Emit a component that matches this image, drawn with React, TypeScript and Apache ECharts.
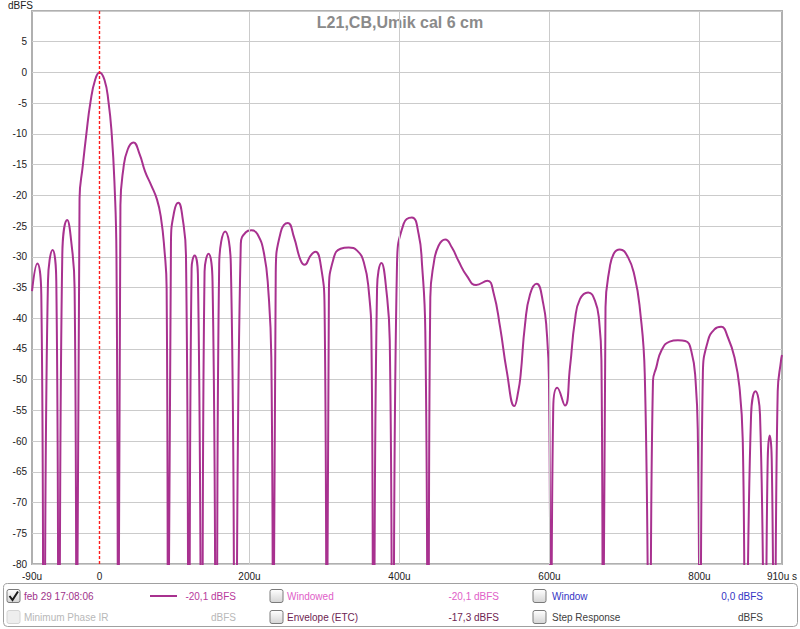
import React, { useEffect, useRef } from 'react';
import * as echarts from 'echarts';

const timeUs = [
  -90, -82.9, -77.6, -74.0, -68.7, -62.5, -57.6, -54.1, -49.6, -43.0, -37.7, -33.2, -30.2,
  -26.6, -22.2, -17.7, -12.0, -5.8, 0, 6.6, 12.0, 16.4, 19.9, 22.6, 25.2,
  27.9, 31.9, 37.7, 45.2, 53.2, 60.7, 68.7, 76.7, 82.0, 86.4, 89.5, 91.7,
  95.3, 99.7, 105.1, 110.8, 115.3, 119.2,
  122.8, 126.8, 131.2, 136.3,
  140.1, 145.4, 150.7, 155.6,
  159.6, 167.6, 175.1, 181.1,
  188.4, 195.1, 202.6, 210.5, 219.4, 225.1, 229.1, 231.8,
  235.0, 241.6, 251.3, 259.3, 268.2, 273.5, 281.5, 288.1, 294.8, 300.1, 303.2,
  305.9, 312.5, 321.4, 332.4, 343.5, 352.4, 359.0, 362.6, 365.4,
  370.1, 375.9, 382.6, 387.0, 391.0,
  396.7, 405.6, 416.6, 425.5, 430.0, 434.4, 438.1,
  441.1, 445.5, 452.1, 461.0, 469.9, 478.7, 489.8, 502.2, 517.3, 525.3, 534.2, 543.0, 553.2,
  558.5, 561.6, 567.4, 574.1, 582.9, 591.8, 596.2, 599.3, 601.9,
  605.0, 610.4, 620.6, 627.3, 633.9, 640.6, 651.6, 660.5, 666.2, 669.3, 671.5,
  674.7, 680.4, 686.2, 693.7, 704.8, 713.7, 720.3, 727.0, 733.3,
  738.0, 742.4, 749.1, 760.2, 771.3, 781.0, 789.0, 794.8, 797.9, 800.7,
  804.5, 811.2, 820.1, 828.9, 837.8, 846.7, 853.3, 857.7, 861.7,
  868.8, 874.6, 880.7, 887.2,
  891.0, 893.6, 896.3, 899.8,
  904.3, 908.7, 910,
];

const levelDb = [
  -35.6, -31.1, -36.2, -100, -34.0, -28.9, -34.0, -100, -29.7, -24.0, -27.5, -35.1, -100,
  -20.5, -15.1, -10.2, -4.8, -1.2, 0, -1.2, -4.8, -10.2, -17.8, -29.7, -100,
  -21.6, -15.6, -12.5, -11.4, -13.2, -16.1, -18.3, -20.7, -23.7, -28.6, -35.1, -100,
  -27.5, -22.6, -21.2, -23.7, -29.7, -100,
  -31.9, -29.8, -32.9, -100,
  -32.4, -29.5, -34.0, -100,
  -31.2, -25.9, -31.2, -100,
  -27.9, -26.0, -25.7, -26.3, -29.5, -35.5, -46.4, -100,
  -32.6, -26.0, -24.5, -26.8, -30.6, -31.3, -29.8, -29.2, -31.2, -38.3, -100,
  -35.5, -30.1, -28.7, -28.5, -29.0, -30.9, -35.5, -43.6, -100,
  -35.1, -31.0, -35.6, -43.6, -100,
  -31.1, -24.6, -23.6, -26.3, -31.2, -42.0, -100,
  -36.6, -31.2, -28.2, -27.2, -28.5, -30.7, -33.1, -34.6, -33.9, -35.8, -41.5, -48.6, -54.3,
  -51.8, -49.1, -41.0, -36.1, -34.4, -37.7, -42.0, -50.2, -100,
  -54.6, -51.3, -54.2, -48.0, -40.4, -36.9, -35.8, -37.1, -40.4, -47.5, -100,
  -38.2, -31.7, -29.4, -28.8, -30.1, -33.3, -38.2, -49.0, -100,
  -50.2, -48.0, -45.3, -43.8, -43.6, -43.7, -45.3, -50.2, -60.0, -100,
  -49.0, -43.7, -41.8, -41.4, -43.1, -46.4, -51.2, -59.9, -100,
  -55.7, -51.9, -55.7, -100,
  -62.9, -59.1, -62.9, -100,
  -51.9, -46.9, -46.0,
];

const xTickValues = [-90, 0, 200, 400, 600, 800, 910];
const xGridValues = [200, 400, 600, 800];
const markerTime = 0;
const yMin = -80;
const yMax = 10;
const chartTitle = 'L21,CB,Umik cal 6 cm';

const FONT = '"Liberation Sans", Arial, sans-serif';

function checkbox(x: number, y: number, enabled: boolean, checked: boolean): any[] {
  const els: any[] = [
    {
      type: 'rect',
      shape: { x, y, width: 13, height: 13, r: 2 },
      style: {
        fill: enabled
          ? new echarts.graphic.LinearGradient(0, 0, 0, 1, [
              { offset: 0, color: '#ffffff' },
              { offset: 1, color: '#d4d4d4' },
            ])
          : '#eeeeee',
        stroke: enabled ? '#7a7a7a' : '#d4d4d4',
        lineWidth: 1,
      },
    },
  ];
  if (checked) {
    els.push({
      type: 'polyline',
      shape: { points: [[x + 2.5, y + 6.5], [x + 5.5, y + 10.5], [x + 11, y + 2]] },
      style: { stroke: '#1a1a1a', lineWidth: 2, fill: 'none' },
    });
  }
  return els;
}

function txt(text: string, x: number, y: number, fill: string, align: string = 'left', font: string = `10px ${FONT}`): any {
  return {
    type: 'text',
    style: { text, x, y, fill, font, textAlign: align, textVerticalAlign: 'middle' },
  };
}

export default function App() {
  const ref = useRef<HTMLDivElement>(null);

  useEffect(() => {
    const chart = echarts.init(ref.current!, null, { renderer: 'svg' });
    const data = timeUs.map((t, i) => [t, levelDb[i]]);
    const row1 = 596;
    const row2 = 617;

    const graphics: any[] = [
      txt('dBFS', 8, 5, '#222'),
      txt(chartTitle, 400, 22, '#8a8a8a', 'center', `bold 16px ${FONT}`),
      {
        type: 'rect',
        shape: { x: 3.5, y: 583.5, width: 794, height: 43, r: 4 },
        style: { fill: '#ffffff', stroke: '#a0a0a0', lineWidth: 1 },
      },
      ...checkbox(7, row1 - 6.5, true, true),
      txt('feb 29 17:08:06', 24, row1, '#a0338a'),
      {
        type: 'line',
        shape: { x1: 150, y1: row1, x2: 177, y2: row1 },
        style: { stroke: '#a8318f', lineWidth: 2 },
      },
      txt('-20,1 dBFS', 236, row1, '#b83a9c', 'right'),
      ...checkbox(270, row1 - 6.5, true, false),
      txt('Windowed', 287, row1, '#e060c8'),
      txt('-20,1 dBFS', 499, row1, '#e060c8', 'right'),
      ...checkbox(533, row1 - 6.5, true, false),
      txt('Window', 552, row1, '#3434c4'),
      txt('0,0 dBFS', 763, row1, '#3434c4', 'right'),
      ...checkbox(7, row2 - 6.5, false, false),
      txt('Minimum Phase IR', 24, row2, '#b8b8b8'),
      txt('dBFS', 236, row2, '#b8b8b8', 'right'),
      ...checkbox(270, row2 - 6.5, true, false),
      txt('Envelope (ETC)', 287, row2, '#6e2452'),
      txt('-17,3 dBFS', 499, row2, '#6e2452', 'right'),
      ...checkbox(533, row2 - 6.5, true, false),
      txt('Step Response', 552, row2, '#404040'),
      txt('dBFS', 763, row2, '#404040', 'right'),
    ];

    chart.setOption({
      animation: false,
      backgroundColor: '#ffffff',
      grid: {
        left: 32,
        top: 11,
        width: 752,
        height: 553,
        show: true,
        borderColor: '#b0b0b0',
        borderWidth: 2,
        containLabel: false,
      },
      xAxis: {
        type: 'value',
        min: -90,
        max: 910,
        axisLine: { show: false, onZero: false },
        axisTick: { show: false },
        splitLine: { show: false },
        axisLabel: {
          customValues: xTickValues,
          formatter: (v: number) => (v === 0 ? '0' : v === 910 ? '910u s' : `${v}u`),
          fontSize: 10,
          fontFamily: FONT,
          color: '#222',
          margin: 7,
        },
      },
      yAxis: {
        type: 'value',
        min: yMin,
        max: yMax,
        interval: 5,
        axisLine: { show: false, onZero: false },
        axisTick: { show: false },
        axisLabel: {
          formatter: (v: number) => (v === 10 ? '' : String(v)),
          fontSize: 10,
          fontFamily: FONT,
          color: '#222',
          margin: 5,
        },
        splitLine: { lineStyle: { color: '#cbcbcb', width: 1 } },
      },
      series: [
        {
          type: 'line',
          data: [],
          z: 1,
          silent: true,
          markLine: {
            silent: true,
            symbol: 'none',
            label: { show: false },
            lineStyle: { color: '#cbcbcb', width: 1, type: 'solid' },
            data: xGridValues.map((v) => ({ xAxis: v, lineStyle: { color: '#cbcbcb', width: 1, type: 'solid' } })),
          },
        },
        {
          type: 'line',
          data: [[markerTime, yMin], [markerTime, yMax]],
          z: 4,
          silent: true,
          showSymbol: false,
          color: '#ff1a1a',
          lineStyle: { color: '#ff1a1a', width: 1.4, type: [3, 2] },
        },
        {
          type: 'line',
          data,
          z: 3,
          showSymbol: false,
          smooth: 0.5,
          clip: true,
          color: '#a8318f',
          lineStyle: { color: '#a8318f', width: 2 },
        },
      ],
      graphic: graphics,
    });

    return () => chart.dispose();
  }, []);

  return <div ref={ref} style={{ position: 'fixed', left: 0, top: 0, width: 800, height: 629 }} />;
}
